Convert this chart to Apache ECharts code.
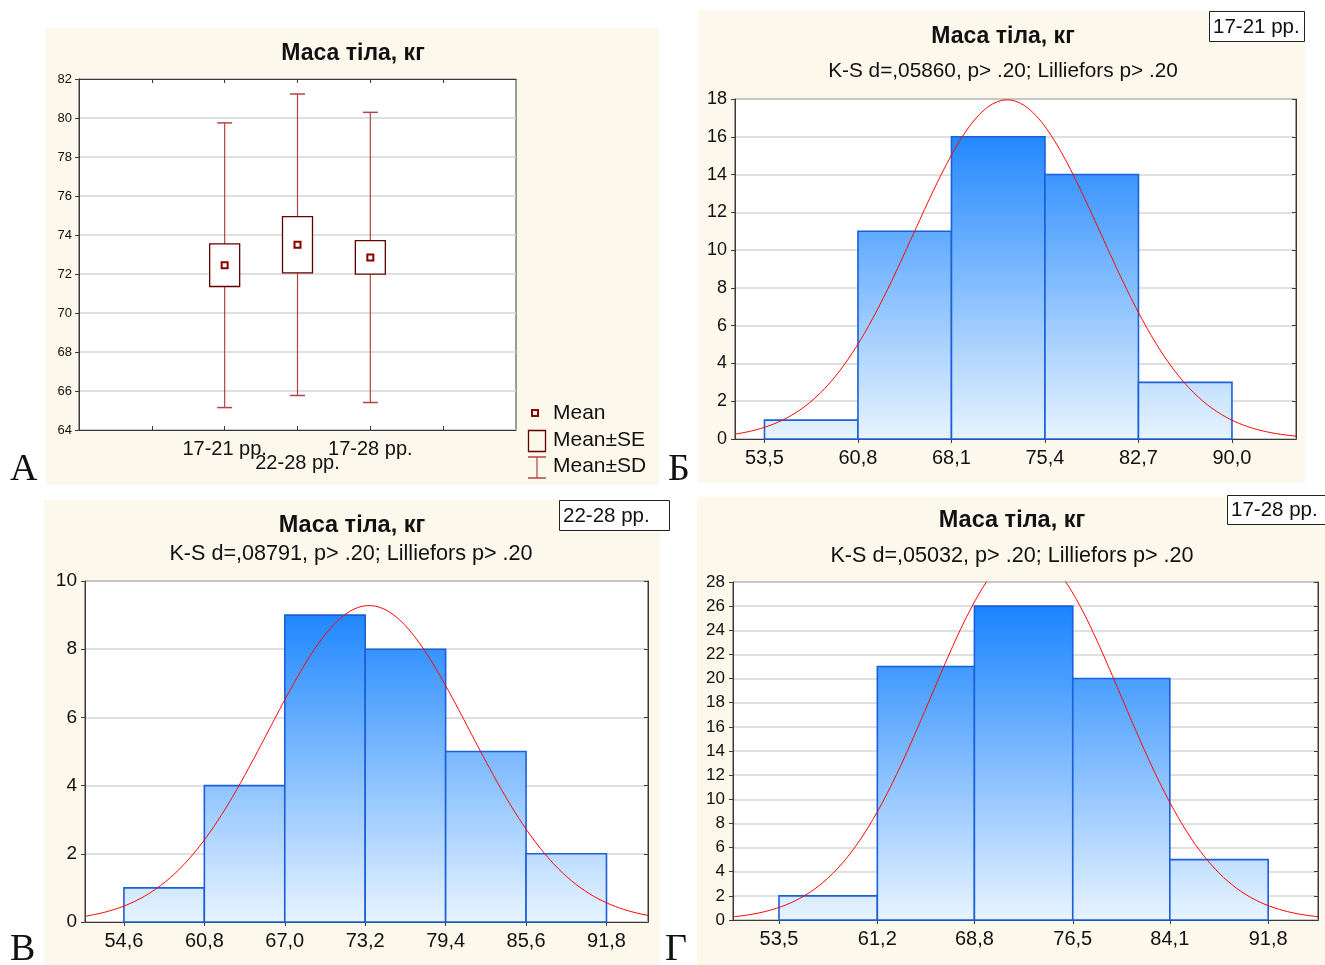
<!DOCTYPE html>
<html>
<head>
<meta charset="utf-8">
<script src="https://cdn.jsdelivr.net/npm/echarts@6/dist/echarts.min.js"></script>
<style>
  html, body { margin: 0; padding: 0; background: #ffffff; }
  #chart { width: 1325px; height: 965px; }
</style>
</head>
<body>
<div id="chart"></div>
<script>
// ---- Маса тіла, кг: descriptive statistics by age group ----
const groups = ['17-21 рр.', '22-28 рр.', '17-28 рр.'];
const groupMean = [72.45, 73.5, 72.85];
const groupSE = [1.09, 1.44, 0.86];
const groupSD = [7.3, 7.73, 7.44];
const groupN = [45, 29, 74];

// ---- Frequency histograms (bin edges double as x tick labels) ----
const edges1721 = [53.5, 60.8, 68.1, 75.4, 82.7, 90.0];
const counts1721 = [1, 11, 16, 14, 3];
const edges2228 = [54.6, 60.8, 67.0, 73.2, 79.4, 85.6, 91.8];
const counts2228 = [1, 4, 9, 8, 5, 2];
const edges1728 = [53.5, 61.2, 68.8, 76.5, 84.1, 91.8];
const counts1728 = [2, 21, 26, 20, 5];

const ksText = [
  'K-S d=,05860, p> .20; Lilliefors p> .20',
  'K-S d=,08791, p> .20; Lilliefors p> .20',
  'K-S d=,05032, p> .20; Lilliefors p> .20'
];
const panelLetters = ['А', 'Б', 'В', 'Г'];
const chartTitle = 'Маса тіла, кг';
const legendLabels = ['Mean', 'Mean±SE', 'Mean±SD'];

const SANS = '"Liberation Sans", Arial, sans-serif';
const SERIF = '"Liberation Serif", "Times New Roman", serif';
const CREAM = '#fcf8ec';
const TEXT = '#111111';
const FRAME = '#3a3a3a';
const GRIDLINE = '#d6d6d6';
const BOX_RED = '#640000';
const WHISKER_RED = '#b54343';
const MEAN_RED = '#8a0000';

const chart = echarts.init(document.getElementById('chart'), null, { renderer: 'canvas' });

// Plot rectangles (pixels) for the four panels
const boxGrid = { left: 79, top: 79, width: 437, height: 351 };
const histPanels = [
  { grid: { left: 735, top: 99, width: 561, height: 340 }, edges: edges1721, counts: counts1721,
    g: 0, xMin: 51.2, xMax: 95.0, yMax: 18, yFont: 18 },
  { grid: { left: 85, top: 581, width: 563, height: 341 }, edges: edges2228, counts: counts2228,
    g: 1, xMin: 51.6, xMax: 95.0, yMax: 10, yFont: 19 },
  { grid: { left: 733, top: 582, width: 585, height: 338 }, edges: edges1728, counts: counts1728,
    g: 2, xMin: 49.9, xMax: 95.7, yMax: 28, yFont: 17 }
];

// Expected normal frequency curve for a histogram with the given bin width
function normalCurve(mean, sd, n, width, from, to) {
  const pts = [];
  const k = n * width / (sd * Math.sqrt(2 * Math.PI));
  for (let x = from; x <= to + 1e-9; x += 0.1) {
    const z = (x - mean) / sd;
    pts.push([x, k * Math.exp(-0.5 * z * z)]);
  }
  return pts;
}

const commaFmt = v => Number(v).toFixed(1).replace('.', ',');

const grids = [];
const xAxes = [];
const yAxes = [];
const series = [];

// ---- Panel А: mean / SE / SD plot ----
grids.push({ ...boxGrid, show: true, backgroundColor: '#ffffff', borderColor: FRAME, borderWidth: 1, containLabel: false });
xAxes.push({
  type: 'value', gridIndex: 0, min: 0, max: 6, position: 'bottom',
  axisLine: { show: true, lineStyle: { color: FRAME } },
  axisTick: { show: true, inside: true, length: 4, customValues: [1, 2, 3, 4, 5], lineStyle: { color: FRAME } },
  axisLabel: { show: false },
  splitLine: { show: false }
});
xAxes.push({
  type: 'value', gridIndex: 0, min: 0, max: 6, position: 'top',
  axisLine: { show: true, lineStyle: { color: FRAME } },
  axisTick: { show: true, inside: true, length: 4, customValues: [1, 2, 3, 4, 5], lineStyle: { color: FRAME } },
  axisLabel: { show: false }, splitLine: { show: false }
});
yAxes.push({
  type: 'value', gridIndex: 0, min: 64, max: 82, interval: 2, position: 'left',
  axisLine: { show: true, lineStyle: { color: FRAME } },
  axisTick: { show: true, length: 4, lineStyle: { color: FRAME } },
  axisLabel: { fontSize: 13, margin: 7, fontFamily: SANS, color: TEXT },
  splitLine: { show: true, lineStyle: { color: GRIDLINE, width: 1.5 } }
});
yAxes.push({
  type: 'value', gridIndex: 0, min: 64, max: 82, interval: 2, position: 'right',
  axisLine: { show: true, lineStyle: { color: FRAME } },
  axisTick: { show: true, inside: true, length: 4, lineStyle: { color: FRAME } },
  axisLabel: { show: false }, splitLine: { show: false }
});

const boxData = groups.map((g, i) => [i + 2, groupMean[i], groupSE[i], groupSD[i]]);
series.push({
  type: 'custom', xAxisIndex: 0, yAxisIndex: 0, data: boxData,
  encode: { x: 0, y: 1 }, clip: false,
  renderItem(params, api) {
    const x = api.value(0), m = api.value(1), se = api.value(2), sd = api.value(3);
    const top = api.coord([x, m + sd]);
    const bot = api.coord([x, m - sd]);
    const seTop = api.coord([x, m + se]);
    const seBot = api.coord([x, m - se]);
    const c = api.coord([x, m]);
    const cs = params.coordSys;
    const cap = 7.5, half = 15;
    // group name under the axis; the middle one is staggered one row down
    const labelY = cs.y + cs.height + 9 + (params.dataIndex === 1 ? 14 : 0);
    return {
      type: 'group',
      children: [
        { type: 'line', shape: { x1: top[0], y1: top[1], x2: bot[0], y2: bot[1] },
          style: { stroke: WHISKER_RED, lineWidth: 1.2 } },
        { type: 'line', shape: { x1: top[0] - cap, y1: top[1], x2: top[0] + cap, y2: top[1] },
          style: { stroke: WHISKER_RED, lineWidth: 1.5 } },
        { type: 'line', shape: { x1: bot[0] - cap, y1: bot[1], x2: bot[0] + cap, y2: bot[1] },
          style: { stroke: WHISKER_RED, lineWidth: 1.5 } },
        { type: 'rect', shape: { x: c[0] - half, y: seTop[1], width: 2 * half, height: seBot[1] - seTop[1] },
          style: { fill: '#ffffff', stroke: BOX_RED, lineWidth: 1.3 } },
        { type: 'rect', shape: { x: c[0] - 3, y: c[1] - 3, width: 6, height: 6 },
          style: { fill: '#ffffff', stroke: MEAN_RED, lineWidth: 2 } },
        { type: 'text', x: c[0], y: labelY,
          style: { text: groups[params.dataIndex], font: '20px ' + SANS, fill: TEXT,
            textAlign: 'center', textVerticalAlign: 'top' } }
      ]
    };
  },
  z: 5
});

// ---- Histogram panels Б, В, Г ----
histPanels.forEach((p, idx) => {
  const gi = idx + 1;
  const gr = p.grid;
  grids.push({ ...gr, show: true, backgroundColor: '#ffffff', borderColor: FRAME, borderWidth: 1, containLabel: false });
  const xb = xAxes.length;
  xAxes.push({
    type: 'value', gridIndex: gi, min: p.xMin, max: p.xMax, position: 'bottom',
    axisLine: { show: true, lineStyle: { color: FRAME } },
    axisTick: { show: true, length: 4, customValues: p.edges, lineStyle: { color: FRAME } },
    axisLabel: { show: true, customValues: p.edges, formatter: commaFmt, margin: 9, hideOverlap: false,
      fontSize: 20, fontFamily: SANS, color: TEXT },
    splitLine: { show: false }
  });
  xAxes.push({
    type: 'value', gridIndex: gi, min: p.xMin, max: p.xMax, position: 'top',
    axisLine: { show: true, lineStyle: { color: FRAME } },
    axisTick: { show: true, inside: true, length: 4, customValues: p.edges, lineStyle: { color: FRAME } },
    axisLabel: { show: false, customValues: p.edges }, splitLine: { show: false }
  });
  const yl = yAxes.length;
  yAxes.push({
    type: 'value', gridIndex: gi, min: 0, max: p.yMax, interval: 2, position: 'left',
    axisLine: { show: true, lineStyle: { color: FRAME } },
    axisTick: { show: true, length: 4, lineStyle: { color: FRAME } },
    axisLabel: { fontSize: p.yFont, margin: 8, fontFamily: SANS, color: TEXT },
    splitLine: { show: true, lineStyle: { color: GRIDLINE, width: 1.5 } }
  });
  yAxes.push({
    type: 'value', gridIndex: gi, min: 0, max: p.yMax, interval: 2, position: 'right',
    axisLine: { show: true, lineStyle: { color: FRAME } },
    axisTick: { show: true, inside: true, length: 4, lineStyle: { color: FRAME } },
    axisLabel: { show: false }, splitLine: { show: false }
  });

  const fill = new echarts.graphic.LinearGradient(0, gr.top, 0, gr.top + gr.height, [
    { offset: 0, color: '#0a7bff' },
    { offset: 1, color: '#e8f4ff' }
  ], true);

  const bins = p.counts.map((c, i) => [p.edges[i], p.edges[i + 1], c]);
  series.push({
    type: 'custom', xAxisIndex: xb, yAxisIndex: yl, data: bins,
    encode: { x: [0, 1], y: 2 },
    renderItem(params, api) {
      const a = api.coord([api.value(0), api.value(2)]);
      const b = api.coord([api.value(1), 0]);
      return {
        type: 'rect',
        shape: { x: a[0], y: a[1], width: b[0] - a[0], height: b[1] - a[1] },
        style: { fill: fill, stroke: '#1b5fd9', lineWidth: 1.6 }
      };
    },
    z: 3
  });

  const width = p.edges[1] - p.edges[0];
  series.push({
    type: 'line', xAxisIndex: xb, yAxisIndex: yl, showSymbol: false, symbol: 'none',
    data: normalCurve(groupMean[p.g], groupSD[p.g], groupN[p.g], width, p.xMin, p.xMax),
    lineStyle: { color: '#ff0000', width: 1 }, clip: true, silent: true, z: 6
  });
});

// ---- Panel backgrounds, titles, group tags, letters, legend ----
const graphics = [];
const panelsBg = [
  { x: 46, y: 28, w: 613, h: 457 },
  { x: 698, y: 10, w: 607, h: 473 },
  { x: 44, y: 500, w: 616, h: 465 },
  { x: 697, y: 497, w: 628, h: 468 }
];
panelsBg.forEach(b => graphics.push({
  type: 'rect', z: -10, shape: { x: b.x, y: b.y, width: b.w, height: b.h }, style: { fill: CREAM }
}));

function text(x, y, str, font, align, extra) {
  return Object.assign({
    type: 'text', z: 20, x: x, y: y,
    style: { text: str, font: font, fill: TEXT, textAlign: align || 'center', textVerticalAlign: 'middle' }
  }, extra || {});
}

const titleFont = 'bold 23px ' + SANS;
const titleFontL = 'bold 23.5px ' + SANS;
graphics.push(text(353, 54, chartTitle, titleFont));
graphics.push(text(1003, 37, chartTitle, titleFont));
graphics.push(text(1003, 71, ksText[0], '20.8px ' + SANS));
graphics.push(text(352, 526, chartTitle, titleFontL));
graphics.push(text(351, 554, ksText[1], '21.6px ' + SANS));
graphics.push(text(1012, 521, chartTitle, titleFontL));
graphics.push(text(1012, 556, ksText[2], '21.6px ' + SANS));

// group tags in the top-right corner of each histogram panel
const tags = [
  { x: 1209, y: 11, w: 95, h: 30, t: groups[0] },
  { x: 559, y: 500, w: 110, h: 30, t: groups[1] },
  { x: 1227, y: 495, w: 110, h: 29, t: groups[2] }
];
tags.forEach(t => {
  graphics.push({ type: 'rect', z: 15, shape: { x: t.x + 0.5, y: t.y + 0.5, width: t.w, height: t.h },
    style: { fill: '#ffffff', stroke: '#222222', lineWidth: 1 } });
  graphics.push(text(t.x + 4, t.y + t.h / 2 + 1, t.t, '20.5px ' + SANS, 'left'));
});

// panel letters
const letterPos = [[10, 470], [668, 470], [10, 950], [665, 950]];
panelLetters.forEach((L, i) => graphics.push(text(letterPos[i][0], letterPos[i][1], L, '38px ' + SERIF, 'left')));

// legend of panel А
graphics.push({ type: 'rect', z: 20, shape: { x: 532, y: 410, width: 6, height: 6 },
  style: { fill: '#ffffff', stroke: MEAN_RED, lineWidth: 2 } });
graphics.push({ type: 'rect', z: 20, shape: { x: 528.5, y: 430.5, width: 17, height: 21 },
  style: { fill: 'none', stroke: BOX_RED, lineWidth: 1.3 } });
graphics.push({ type: 'line', z: 20, shape: { x1: 537, y1: 457, x2: 537, y2: 478 },
  style: { stroke: WHISKER_RED, lineWidth: 1.2 } });
graphics.push({ type: 'line', z: 20, shape: { x1: 528, y1: 457, x2: 546, y2: 457 },
  style: { stroke: WHISKER_RED, lineWidth: 1.5 } });
graphics.push({ type: 'line', z: 20, shape: { x1: 528, y1: 478, x2: 546, y2: 478 },
  style: { stroke: WHISKER_RED, lineWidth: 1.5 } });
graphics.push(text(553, 413, legendLabels[0], '21px ' + SANS, 'left'));
graphics.push(text(553, 440, legendLabels[1], '21px ' + SANS, 'left'));
graphics.push(text(553, 466, legendLabels[2], '21px ' + SANS, 'left'));

chart.setOption({
  animation: false,
  backgroundColor: '#ffffff',
  textStyle: { fontFamily: SANS },
  grid: grids,
  xAxis: xAxes,
  yAxis: yAxes,
  series: series,
  graphic: { elements: graphics }
});
</script>
</body>
</html>
